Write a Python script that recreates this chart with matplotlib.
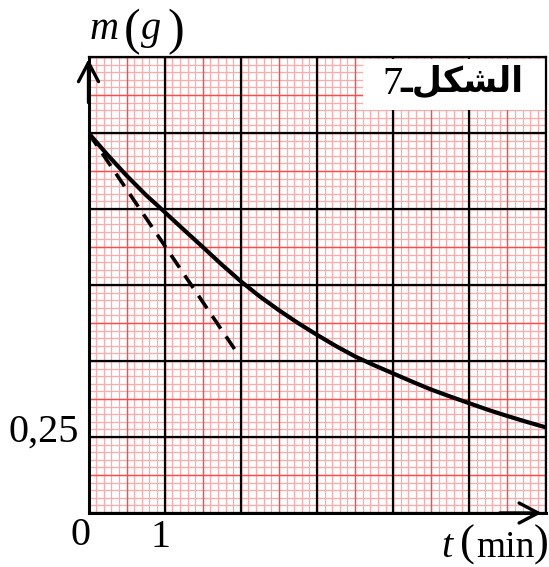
"""Mass vs time decay curve on graph paper, with the tangent at t = 0."""
import numpy as np
import matplotlib

matplotlib.use("Agg")
import matplotlib.pyplot as plt

W, H = 549, 567

# curve: t in minutes, m in grams
t_min = [0.0, 0.25, 0.5, 0.75, 1.0, 1.25, 1.5, 1.75, 2.0, 2.25, 2.5, 2.75, 3.0,
         3.25, 3.5, 3.75, 4.0, 4.25, 4.5, 4.75, 5.0, 5.25, 5.5, 5.75, 6.0]
m_g = [1.25, 1.178, 1.11, 1.047, 0.99, 0.932, 0.875, 0.817, 0.762, 0.712, 0.667,
       0.625, 0.586, 0.549, 0.515, 0.486, 0.459, 0.432, 0.406, 0.383, 0.361,
       0.339, 0.319, 0.300, 0.282]

# tangent at the origin (dashed)
tangent_t = [0.0, 1.97]
tangent_m = [1.25, 0.52]

x_major = 1.0     # one big square = 1 min
y_major = 0.25    # one big square = 0.25 g
x_max, y_max = 6.0, 1.5

fig_number = "7"
fig_word = "\u0640\ufede\ufedc\ufeb8\ufedf\ufe8d"  # "الشكل-" in visual order


def px(x, y):
    """Pixel position (from top-left) to figure fraction."""
    return x / W, 1 - y / H


fig = plt.figure(figsize=(W / 100, H / 100), dpi=100)
ax = fig.add_axes([88.5 / W, 1 - 513 / H, 457 / W, 456 / H])
ax.set_xlim(0, x_max)
ax.set_ylim(0, y_max)

# graph paper: fine pink, half-square red, big-square black
for frac, col, lw in [(0.1, "#ffaaaa", 0.9), (0.5, "#ff4a4a", 1.0)]:
    for v in np.arange(0, x_max + 1e-9, x_major * frac):
        ax.axvline(v, color=col, lw=lw, zorder=1)
    for v in np.arange(0, y_max + 1e-9, y_major * frac):
        ax.axhline(v, color=col, lw=lw, zorder=1)
for v in np.arange(0, x_max + 1e-9, x_major):
    ax.axvline(v, color="black", lw=1.6, zorder=2)
for v in np.arange(0, y_max + 1e-9, y_major):
    ax.axhline(v, color="black", lw=1.6, zorder=2)

# white label box in the top-right corner
ax.add_patch(plt.Rectangle((3.61, 1.326), x_max - 3.61, y_max - 1.326 - 0.006,
                           facecolor="white", edgecolor="none", zorder=3))
fig.text(*px(382, 94), fig_number, fontsize=29, family="Liberation Serif",
         va="baseline", zorder=4)
fig.text(*px(524, 92), fig_word, fontsize=25, family="DejaVu Sans",
         weight="bold", ha="right", va="baseline", zorder=4)

ax.plot(t_min, m_g, color="black", lw=3.0, zorder=5, solid_capstyle="butt")
ax.plot(tangent_t, tangent_m, color="black", lw=2.6, dashes=(4.2, 2.6), zorder=5)

ax.set_xticks([])
ax.set_yticks([])
for side in ("left", "bottom"):
    ax.spines[side].set_linewidth(2.2)
for side in ("top", "right"):
    ax.spines[side].set_linewidth(1.6)
for s in ax.spines.values():
    s.set_zorder(6)

arrow = dict(arrowstyle="->,head_length=1.37,head_width=0.72", lw=2.4,
             color="black", shrinkA=0, shrinkB=0, mutation_scale=10)
ax.annotate("", xy=(0, 0.9956), xytext=(0, 0.9), xycoords="axes fraction",
            arrowprops=arrow, annotation_clip=False, zorder=7)
ax.annotate("", xy=(0.9917, 0), xytext=(0.9, 0), xycoords="axes fraction",
            arrowprops=arrow, annotation_clip=False, zorder=7)

serif = "Liberation Serif"
# axis labels
fig.text(*px(90, 39), "m", fontsize=29, style="italic", family=serif, va="baseline")
fig.text(*px(124, 44), "(", fontsize=36, family=serif, va="baseline")
fig.text(*px(141, 39), "g", fontsize=29, style="italic", family=serif, va="baseline")
fig.text(*px(167, 44), ")", fontsize=36, family=serif, va="baseline")

fig.text(*px(441, 557), "t", fontsize=29, style="italic", family=serif, va="baseline")
fig.text(*px(460, 556), "(", fontsize=32, family=serif, va="baseline")
fig.text(*px(476, 557), "min", fontsize=27, family=serif, va="baseline")
fig.text(*px(534, 556), ")", fontsize=32, family=serif, va="baseline")

# tick labels
fig.text(*px(80, 545), "0", fontsize=29, family=serif, ha="center", va="baseline")
fig.text(*px(161, 547), "1", fontsize=29, family=serif, ha="center", va="baseline")
fig.text(*px(79, 442), "0,25", fontsize=29, family=serif, ha="right", va="baseline")

fig.savefig("out.png", dpi=100)
